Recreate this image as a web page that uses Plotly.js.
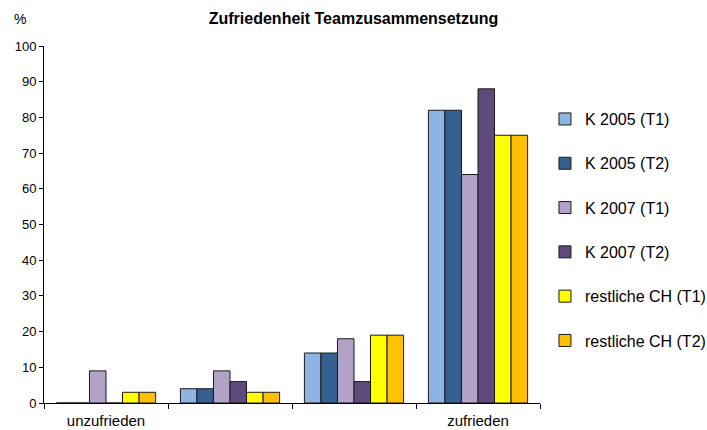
<!DOCTYPE html>
<html>
<head>
<meta charset="utf-8">
<script src="https://cdn.plot.ly/plotly-3.0.1.min.js"></script>
<style>html,body{margin:0;padding:0;background:#fff}#chart{width:707px;height:430px}</style>
</head>
<body>
<div id="chart"></div>
<script>
const categories = ["c1", "c2", "c3", "c4"];
const tickLabels = ["unzufrieden", "", "", "zufrieden"];
const seriesNames = ["K 2005 (T1)", "K 2005 (T2)", "K 2007 (T1)", "K 2007 (T2)", "restliche CH (T1)", "restliche CH (T2)"];
const k2005T1 = [0, 4, 14, 82];
const k2005T2 = [0, 4, 14, 82];
const k2007T1 = [9, 9, 18, 64];
const k2007T2 = [0, 6, 6, 88];
const chT1 = [3, 3, 19, 75];
const chT2 = [3, 3, 19, 75];
const colors = ["#8EB4E3", "#366092", "#B3A2C7", "#604A7B", "#FFFF00", "#FFC000"];
const seriesValues = [k2005T1, k2005T2, k2007T1, k2007T2, chT1, chT2];

const traces = seriesValues.map((vals, i) => ({
  type: "bar",
  name: seriesNames[i],
  x: categories,
  y: vals,
  legendgroup: "g" + i,
  marker: { color: colors[i], line: { color: "#1a1a1a", width: 1 } },
  hoverinfo: "skip"
}));

const layout = {
  width: 707, height: 430,
  margin: { l: 44, r: 167, t: 46, b: 27, autoexpand: false },
  paper_bgcolor: "#fff", plot_bgcolor: "#fff",
  font: { family: "'Liberation Sans', Arial, sans-serif", size: 13, color: "#000" },
  title: { text: "<b>Zufriedenheit Teamzusammensetzung</b>", x: 0.5, xanchor: "center", y: 0.958, yanchor: "middle", font: { size: 16 } },
  barmode: "group",
  bargap: 0.2,
  bargroupgap: 0,
  showlegend: true,
  legend: {
    x: 1.01, xanchor: "left", y: 0.843, yanchor: "top",
    traceorder: "grouped", tracegroupgap: 20.5,
    font: { size: 16 }, itemwidth: 30
  },
  xaxis: {
    type: "category",
    tickvals: categories, ticktext: tickLabels,
    tickson: "boundaries", ticks: "outside", ticklen: 5, tickcolor: "#000",
    showline: true, linecolor: "#000", linewidth: 1,
    showgrid: false, zeroline: false, ticklabelstandoff: 4,
    tickfont: { size: 15 }, fixedrange: true
  },
  yaxis: {
    range: [0, 100], dtick: 10, tick0: 0,
    ticks: "outside", ticklen: 4, tickcolor: "#000",
    showline: true, linecolor: "#000", linewidth: 1,
    showgrid: false, zeroline: false,
    tickfont: { size: 13 }, fixedrange: true
  },
  annotations: [{
    text: "%", xref: "paper", yref: "paper", x: -0.048, y: 1.075,
    showarrow: false, font: { size: 14 }, xanchor: "center", yanchor: "middle"
  }]
};

Plotly.newPlot("chart", traces, layout, { displayModeBar: false, staticPlot: true });
</script>
</body>
</html>
